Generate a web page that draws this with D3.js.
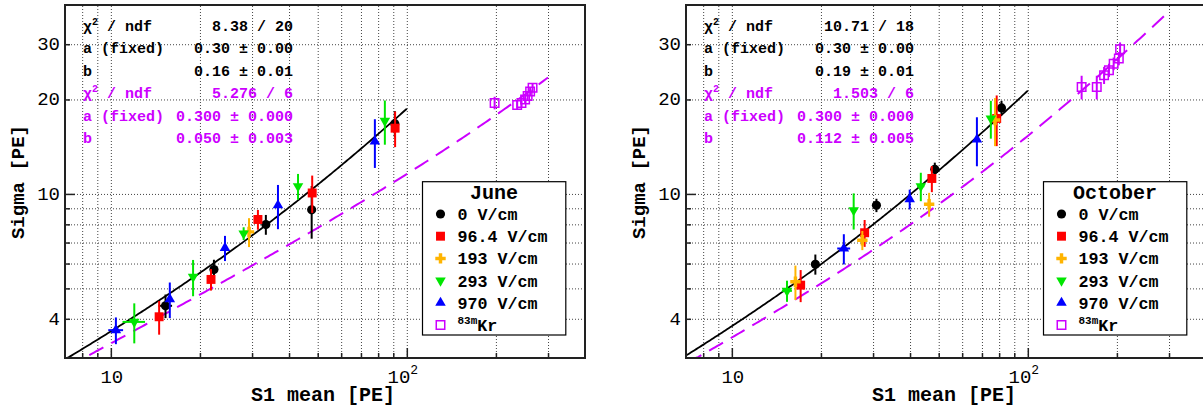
<!DOCTYPE html>
<html>
<head>
<meta charset="utf-8">
<script src="https://cdn.jsdelivr.net/npm/d3@7/dist/d3.min.js"></script>
<style>
body{margin:0;background:#fff;}
svg text{font-family:"Liberation Mono","DejaVu Sans Mono",monospace;}
.grid line{stroke:#444;stroke-width:1;stroke-dasharray:1,2;}
.grid path{display:none;}
.ticks path{display:none;}
.ticks line{stroke:#222;stroke-width:1.5;}
</style>
</head>
<body>
<div id="chart"></div>
<script>
// series labels / colours (0, 96.4, 193, 293, 970 V/cm, then 83mKr)
var fieldLabels = ["0 V/cm","96.4 V/cm","193 V/cm","293 V/cm","970 V/cm"];
var fieldColors = ["#000000","#ff0000","#ffb400","#00e600","#0000ff"];
var fieldMarkers = ["circle","square","cross","tridown","triup"];
var krColor = "#cc00ff";

// points: [S1 mean, sigma, x error, sigma error]
var june0V   = [[15.3,4.40,0.8,0.38],[22.3,5.74,0.5,0.43],[33.4,7.99,1.0,0.58],[47.7,8.9,0,1.7],[91.1,16.75,0,1.6]];
var june96V  = [[14.56,4.06,0,0.5],[21.8,5.34,0,0.42],[31.4,8.29,0,0.6],[47.9,10.07,0,1.37],[91.3,16.2,0,2.1]];
var june193V = [[29.3,7.57,0.8,0.8]];
var june293V = [[12.0,3.91,1.05,0.57],[18.96,5.44,0,0.72],[28.1,7.48,0,0.35],[42.9,10.58,0,1.0],[84.3,17.1,0,2.75]];
var june970V = [[10.4,3.68,0.6,0.36],[15.82,4.62,0,0.6],[24.3,6.73,0,0.62],[36.7,9.2,0,1.48],[78.0,14.7,0,2.6]];
var juneKr   = [[198,19.5,0,0.9],[236,19.2,0,0.6],[244,19.5,0,0.6],[251,20.0,0,0.6],[256,20.5,0,0.6],[261,21.2,0,0.7],[266,21.8,0,0.7]];

var oct0V   = [[19.15,5.97,0,0.44],[30.8,9.2,0,0.45],[48.5,11.98,0,0.6],[81.5,18.8,0,1.0]];
var oct96V  = [[17.08,5.12,0,0.6],[28.1,7.52,0,0.74],[47.4,11.2,0,1.07],[78.5,17.4,0,3.2]];
var oct193V = [[16.4,5.25,0,0.66],[27.6,7.12,0,0.5],[46.4,9.27,0,0.81],[77.5,17.2,0,3.0]];
var oct293V = [[15.36,4.91,0.6,0.38],[25.8,8.87,0,1.17],[43.5,10.58,1.2,1.1],[75.0,17.4,0,2.4]];
var oct970V = [[23.9,6.7,1.2,0.74],[39.9,9.62,0,0.7],[67.3,14.9,0,2.65]];
var octKr   = [[152,21.9,0,1.9],[171,21.9,0,1.9],[181,23.9,0,1.5],[188,24.8,0,1.2],[195,26.0,0,1.2],[203,27.0,0,1.3],[205,28.9,0,1.5]];

// fit boxes (text) and fit curve params sigma = sqrt((1+a^2)x + (b x)^2)
var juneStats   = ["8.38 / 20","0.30 \u00b1 0.00","0.16 \u00b1 0.01"];
var juneKrStats = ["5.276 / 6","0.300 \u00b1 0.000","0.050 \u00b1 0.003"];
var octStats    = ["10.71 / 18","0.30 \u00b1 0.00","0.19 \u00b1 0.01"];
var octKrStats  = ["1.503 / 6","0.300 \u00b1 0.000","0.112 \u00b1 0.005"];
var juneFit   = [0.30,0.155,100];
var juneKrFit = [0.30,0.050,300];
var octFit    = [0.30,0.186,100];
var octKrFit  = [0.30,0.112,300];

// axes
var xDomain = [7,400];
var yDomain = [3,40];
var xGrid = [8,9,10,20,30,40,50,60,70,80,90,100,200,300];
var yGrid = [4,5,6,7,8,9,10,20,30];
var xMajor = [10,100];
var yLabels = [4,10,20,30];

var svg = d3.select("#chart").append("svg").attr("width",1203).attr("height",412);

class Panel{
constructor(left,title,series,kr,stats,krStats,fit,krFit){
  this.left = left;
  this.top = 5;
  this.w = 520;
  this.h = 353;
  this.id = title;
  this.x = d3.scaleLog().domain(xDomain).range([0,this.w]);
  this.y = d3.scaleLog().domain(yDomain).range([this.h,0]);
  this.g = svg.append("g").attr("transform","translate("+left+","+this.top+")");
  this.g.append("clipPath").attr("id","clip"+title)
    .append("rect").attr("y",-2).attr("width",this.w).attr("height",this.h+3);
  this.drawGrid();
  this.drawStats(stats,krStats);
  this.drawFit(fit,"#000",null);
  this.drawFit(krFit,krColor,"16,9");
  for(var i=0;i<series.length;i++) this.drawPoints(series[i],fieldColors[i],fieldMarkers[i]);
  this.drawPoints(kr,krColor,"open");
  this.drawAxes();
  this.drawKey(title);
}
drawGrid(){
  this.g.append("g").attr("class","grid").attr("transform","translate(0,"+this.h+")")
    .call(d3.axisBottom(this.x).tickValues(xGrid).tickSize(-this.h).tickFormat(""));
  this.g.append("g").attr("class","grid")
    .call(d3.axisLeft(this.y).tickValues(yGrid).tickSize(-this.w).tickFormat(""));
}
drawAxes(){
  var x = this.x, y = this.y, h = this.h;
  var xMinor = xGrid.filter(function(v){return xMajor.indexOf(v)<0;});
  this.g.append("g").attr("class","ticks").attr("transform","translate(0,"+h+")")
    .call(d3.axisBottom(x).tickValues(xMinor).tickSize(-5).tickFormat(""));
  this.g.append("g").attr("class","ticks").attr("transform","translate(0,"+h+")")
    .call(d3.axisBottom(x).tickValues(xMajor).tickSize(-10).tickFormat(""));
  this.g.append("g").attr("class","ticks")
    .call(d3.axisLeft(y).tickValues(yGrid.filter(function(v){return v!=10;})).tickSize(-5).tickFormat(""));
  this.g.append("g").attr("class","ticks")
    .call(d3.axisLeft(y).tickValues([10]).tickSize(-10).tickFormat(""));
  this.g.append("rect").attr("width",this.w).attr("height",h)
    .attr("fill","none").attr("stroke","#222").attr("stroke-width",2);

  // x labels
  var lab = this.g.selectAll(".xlab").data(xMajor).enter().append("text")
    .attr("class","xlab").attr("x",function(d){return x(d)+(d==100?-4:1);}).attr("y",h+25)
    .attr("text-anchor","middle").attr("font-size",19);
  lab.append("tspan").text("10");
  lab.filter(function(d){return d==100;}).append("tspan").attr("dy",-9).attr("font-size",13).text("2");
  this.g.selectAll(".ylab").data(yLabels).enter().append("text")
    .attr("x",-5).attr("y",function(d){return y(d)+6;})
    .attr("text-anchor","end").attr("font-size",19).text(String);

  this.g.append("text").attr("x",330).attr("y",h+43).attr("text-anchor","end")
    .attr("font-size",20).attr("font-weight","bold").text("S1 mean [PE]");
  this.g.append("text").attr("transform","translate(-41,120) rotate(-90)")
    .attr("text-anchor","end").attr("font-size",19).attr("font-weight","bold").text("Sigma [PE]");
}
drawFit(p,col,dash){
  var x = this.x, y = this.y;
  var xs = d3.range(0,201).map(function(i){return xDomain[0]*Math.pow(p[2]/xDomain[0],i/200);});
  var line = d3.line()
    .x(function(d){return x(d);})
    .y(function(d){
      var s = Math.sqrt((1+p[0]*p[0])*d + p[1]*p[1]*d*d);
      return y(Math.max(s,yDomain[0]));
    });
  var path = this.g.append("path").attr("d",line(xs)).attr("fill","none")
    .attr("stroke",col).attr("stroke-width",1.8).attr("clip-path","url(#clip"+this.id+")");
  if(dash) path.attr("stroke-dasharray",dash).attr("stroke-width",2);
}
drawPoints(data,col,marker){
  var x = this.x, y = this.y;
  var pg = this.g.append("g");
  pg.selectAll(".ey").data(data).enter().append("line")
    .attr("x1",function(d){return x(d[0]);}).attr("x2",function(d){return x(d[0]);})
    .attr("y1",function(d){return y(d[1]-d[3]);}).attr("y2",function(d){return y(d[1]+d[3]);})
    .attr("stroke",col).attr("stroke-width",2);
  pg.selectAll(".ex").data(data.filter(function(d){return d[2]>0;})).enter().append("line")
    .attr("x1",function(d){return x(d[0]-d[2]);}).attr("x2",function(d){return x(d[0]+d[2]);})
    .attr("y1",function(d){return y(d[1]);}).attr("y2",function(d){return y(d[1]);})
    .attr("stroke",col).attr("stroke-width",2);
  pg.selectAll(".mk").data(data).enter().append("path")
    .attr("transform",function(d){return "translate("+x(d[0])+","+y(d[1])+")";})
    .call(styleMarker,marker,col);
}
drawStats(stats,krStats){
  var names = [["\u03c7","2"," / ndf"],["a (fixed)"],["b"]];
  var rows = [[stats,"#000"],[krStats,krColor]];
  for(var r=0;r<2;r++){
    for(var i=0;i<3;i++){
      var yy = 26+(r*3+i)*22.4;
      var t = this.g.append("text").attr("x",18).attr("y",yy).attr("font-size",15)
        .attr("font-weight","bold").attr("fill",rows[r][1]);
      t.append("tspan").text(names[i][0]);
      if(names[i].length>1){
        t.append("tspan").attr("dy",-6).attr("font-size",10).text(names[i][1]);
        t.append("tspan").attr("dy",6).text(names[i][2]);
      }
      this.g.append("text").attr("x",228).attr("y",yy).attr("text-anchor","end")
        .attr("font-size",15).attr("font-weight","bold").attr("fill",rows[r][1])
        .text(rows[r][0][i]);
    }
  }
}
drawKey(title){
  var k = this.g.append("g").attr("transform","translate(357.5,176.7)");
  k.append("rect").attr("width",143.3).attr("height",153.3)
    .attr("fill","#fff").attr("stroke","#000").attr("stroke-width",1.2);
  k.append("text").attr("x",71.6).attr("y",17.5).attr("text-anchor","middle")
    .attr("font-size",20).attr("font-weight","bold").text(title);
  var items = fieldLabels.map(function(l,i){return {lab:l,col:fieldColors[i],mk:fieldMarkers[i]};});
  items.push({lab:"Kr",col:krColor,mk:"open"});
  var rows = k.selectAll(".row").data(items).enter().append("g")
    .attr("transform",function(d,i){return "translate(18,"+(32.3+i*22.2)+")";});
  rows.append("path").each(function(d){d3.select(this).call(styleMarker,d.mk,d.col);});
  var t = rows.append("text").attr("x",17).attr("y",6).attr("font-size",16.7).attr("font-weight","bold");
  t.filter(function(d){return d.mk=="open";}).append("tspan").attr("dy",-7).attr("font-size",11).text("83m");
  t.filter(function(d){return d.mk=="open";}).append("tspan").attr("dy",7).text("Kr");
  t.filter(function(d){return d.mk!="open";}).text(function(d){return d.lab;});
}
}

function styleMarker(sel,marker,col){
  if(marker=="circle") sel.attr("d",d3.symbol(d3.symbolCircle,66)()).attr("fill",col);
  if(marker=="square") sel.attr("d",d3.symbol(d3.symbolSquare,80)()).attr("fill",col);
  if(marker=="cross") sel.attr("d",d3.symbol(d3.symbolCross,60)()).attr("fill",col);
  if(marker=="triup") sel.attr("d",d3.symbol(d3.symbolTriangle,48)()).attr("fill",col);
  if(marker=="tridown") sel.attr("d",d3.symbol(d3.symbolTriangle,48)()).attr("fill",col)
    .attr("transform",function(){return (d3.select(this).attr("transform")||"")+" rotate(180)";});
  if(marker=="open") sel.attr("d",d3.symbol(d3.symbolSquare,72)()).attr("fill","none")
    .attr("stroke",col).attr("stroke-width",1.5);
}

new Panel(65,"June",[june0V,june96V,june193V,june293V,june970V],juneKr,juneStats,juneKrStats,juneFit,juneKrFit);
new Panel(686,"October",[oct0V,oct96V,oct193V,oct293V,oct970V],octKr,octStats,octKrStats,octFit,octKrFit);
</script>
</body>
</html>
